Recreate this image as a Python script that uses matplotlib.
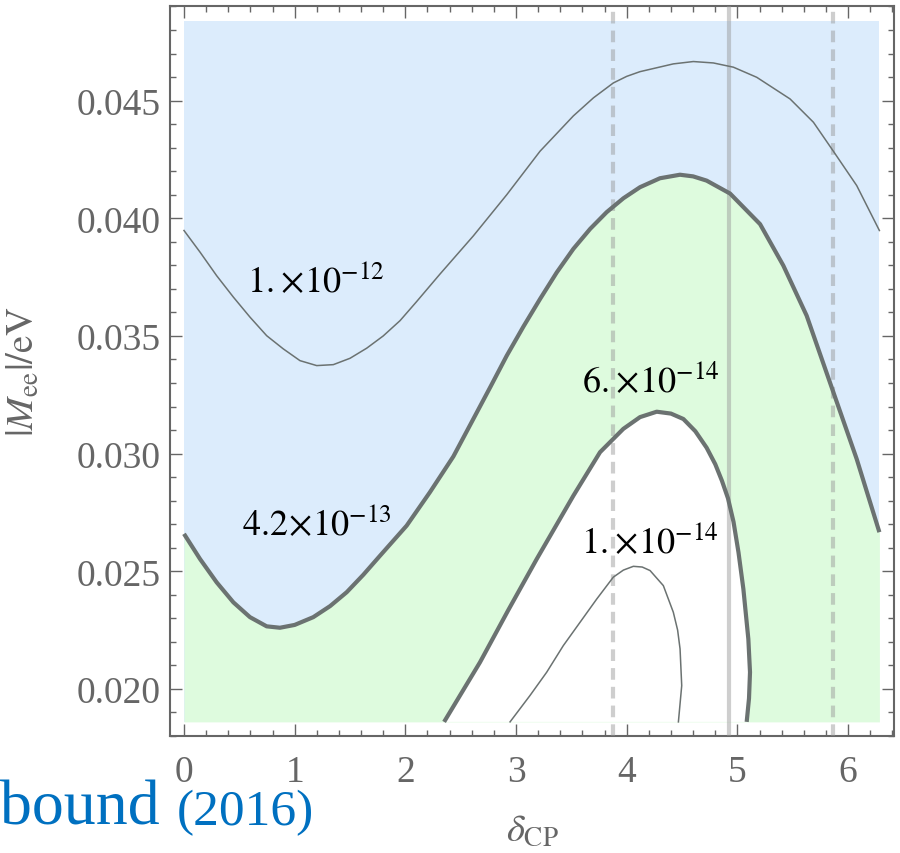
import numpy as np
import matplotlib
matplotlib.use("Agg")
import matplotlib.pyplot as plt
from matplotlib.ticker import MultipleLocator, FormatStrFormatter

plt.rcParams['font.family'] = ['Liberation Serif', 'DejaVu Serif']
plt.rcParams['mathtext.fontset'] = 'stix'

# plotted region of the scan
delta_range = [0.0, 2 * np.pi]
mee_range = [0.0186, 0.0484]

# contour 1e-12 (thin)
d_12 = [0.000, 0.145, 0.295, 0.446, 0.596, 0.747, 0.897, 1.048, 1.199, 1.349,
        1.500, 1.651, 1.800, 1.952, 2.100, 2.313, 2.614, 2.916, 3.217, 3.518,
        3.700, 3.879, 4.000, 4.120, 4.421, 4.602, 4.783, 4.964, 5.175, 5.476,
        5.687, 5.867, 6.078, 6.283]
m_12 = [0.03948, 0.03856, 0.03756, 0.03665, 0.03580, 0.03501, 0.03445, 0.03395, 0.03374, 0.03378,
        0.03405, 0.03448, 0.03500, 0.03565, 0.03645, 0.03763, 0.03925, 0.04100, 0.04285, 0.04435,
        0.04512, 0.04575, 0.04603, 0.04623, 0.04656, 0.04666, 0.04660, 0.04642, 0.04599, 0.04507,
        0.04408, 0.04285, 0.04139, 0.03948]

# contour 4.2e-13 (thick, blue/green border)
d_42 = [0.000, 0.145, 0.295, 0.446, 0.596, 0.747, 0.867, 1.000, 1.168, 1.320,
        1.470, 1.620, 1.771, 2.012, 2.222, 2.434, 2.614, 2.770, 2.916, 3.067,
        3.217, 3.368, 3.518, 3.670, 3.819, 3.970, 4.120, 4.300, 4.481, 4.600,
        4.722, 4.934, 5.205, 5.415, 5.626, 5.867, 6.078, 6.283]
m_42 = [0.02659, 0.02552, 0.02453, 0.02368, 0.02305, 0.02266, 0.02260, 0.02272, 0.02305, 0.02352,
        0.02411, 0.02485, 0.02566, 0.02694, 0.02836, 0.02988, 0.03147, 0.03285, 0.03416, 0.03540,
        0.03657, 0.03770, 0.03870, 0.03955, 0.04026, 0.04085, 0.04132, 0.04170, 0.04185, 0.04178,
        0.04160, 0.04105, 0.03975, 0.03799, 0.03586, 0.03261, 0.02977, 0.02666]

# contour 6e-14 (thick, green/white border)
d_6 = [2.350, 2.674, 2.930, 3.187, 3.518, 3.759, 3.969, 4.120, 4.271, 4.400,
       4.512, 4.620, 4.722, 4.800, 4.860, 4.915, 4.965, 5.010, 5.054, 5.099,
       5.114, 5.105, 5.084]
m_6 = [0.0186, 0.02113, 0.02335, 0.02552, 0.02821, 0.03006, 0.03105, 0.03155, 0.03178, 0.03170,
       0.03147, 0.03095, 0.03025, 0.02955, 0.02885, 0.02810, 0.02710, 0.02580, 0.02425, 0.02212,
       0.02071, 0.01960, 0.0186]

# contour 1e-14 (thin, inner)
d_1 = [2.946, 3.126, 3.277, 3.427, 3.578, 3.729, 3.879, 3.970, 4.060, 4.140,
       4.211, 4.331, 4.421, 4.460, 4.482, 4.497, 4.467]
m_1 = [0.0186, 0.01972, 0.02071, 0.02184, 0.02283, 0.02382, 0.02475, 0.02505, 0.02521, 0.02518,
       0.02503, 0.02439, 0.02326, 0.02250, 0.02170, 0.02014, 0.0186]

# contour labels
label_text = [r'$1.\!\times\!10^{-12}$', r'$4.2\!\times\!10^{-13}$',
              r'$6.\!\times\!10^{-14}$', r'$1.\!\times\!10^{-14}$']
label_x = [1.19, 1.20, 4.22, 4.21]
label_y = [0.03734, 0.02701, 0.03309, 0.02625]

# reference delta_CP values
vlines_dashed = [3.878, 5.866]
vline_solid = 4.926

blue = '#dcecfc'
green = '#defbde'
axis_gray = '#666666'
line_gray = '#6b7271'

fig = plt.figure(figsize=(9, 8.54), dpi=100)
ax = fig.add_axes([170 / 900, 1 - 737 / 854, 724 / 900, 730 / 854])

ax.fill_between(delta_range, mee_range[0], mee_range[1], color=blue, lw=0, zorder=1)
ax.fill_between(d_42, mee_range[0], m_42, color=green, lw=0, zorder=2)
ax.fill(d_6, m_6, color='white', lw=0, zorder=3)

for xv in vlines_dashed:
    ax.axvline(xv, color='#969696', alpha=0.46, lw=3, dashes=(2.8, 1.7), zorder=4)
ax.axvline(vline_solid, color='#969696', alpha=0.46, lw=3, zorder=4)

ax.plot(d_12, m_12, color=line_gray, lw=1.1, zorder=5)
ax.plot(d_42, m_42, color=line_gray, lw=3, zorder=5, solid_capstyle='butt', solid_joinstyle='round')
ax.plot(d_6, m_6, color=line_gray, lw=3, zorder=5, solid_capstyle='butt', solid_joinstyle='round')
ax.plot(d_1, m_1, color=line_gray, lw=1.1, zorder=5)

for t, x, y in zip(label_text, label_x, label_y):
    ax.text(x, y, t, fontsize=26, color='black', ha='center', va='center', zorder=6)

ax.set_xlim(-0.1265, 6.415)
ax.set_ylim(0.0180, 0.04902)

ax.xaxis.set_major_locator(MultipleLocator(1))
ax.xaxis.set_minor_locator(MultipleLocator(0.2))
ax.yaxis.set_major_locator(MultipleLocator(0.005))
ax.yaxis.set_minor_locator(MultipleLocator(0.001))
ax.yaxis.set_major_formatter(FormatStrFormatter('%.3f'))

ax.tick_params(which='both', direction='in', top=True, right=True, color=axis_gray, width=1.0)
ax.tick_params(which='major', length=8.6)
ax.tick_params(which='minor', length=4.3)
ax.tick_params(axis='x', which='major', labelsize=27, labelcolor=axis_gray, pad=13)
ax.tick_params(axis='y', which='major', labelsize=27, labelcolor=axis_gray, pad=7)

for s in ax.spines.values():
    s.set_color(axis_gray)
    s.set_linewidth(1.5)

ax.set_xlabel(r'$\delta_{\mathrm{CP}}$', fontsize=28, color=axis_gray)
ax.xaxis.set_label_coords(0.5, -0.104)
ax.set_ylabel(r'$|M_{\mathrm{ee}}|/\mathrm{eV}$', fontsize=28, color=axis_gray)
ax.yaxis.set_label_coords(-0.175, 0.5)

fig.text(0.0, 1 - 825 / 854, 'bound', fontsize=46, color='#0070c0', va='baseline', ha='left')
fig.text(177 / 900, 1 - 825 / 854, '(2016)', fontsize=37, color='#0070c0', va='baseline', ha='left')

fig.savefig('out.png', dpi=100)
